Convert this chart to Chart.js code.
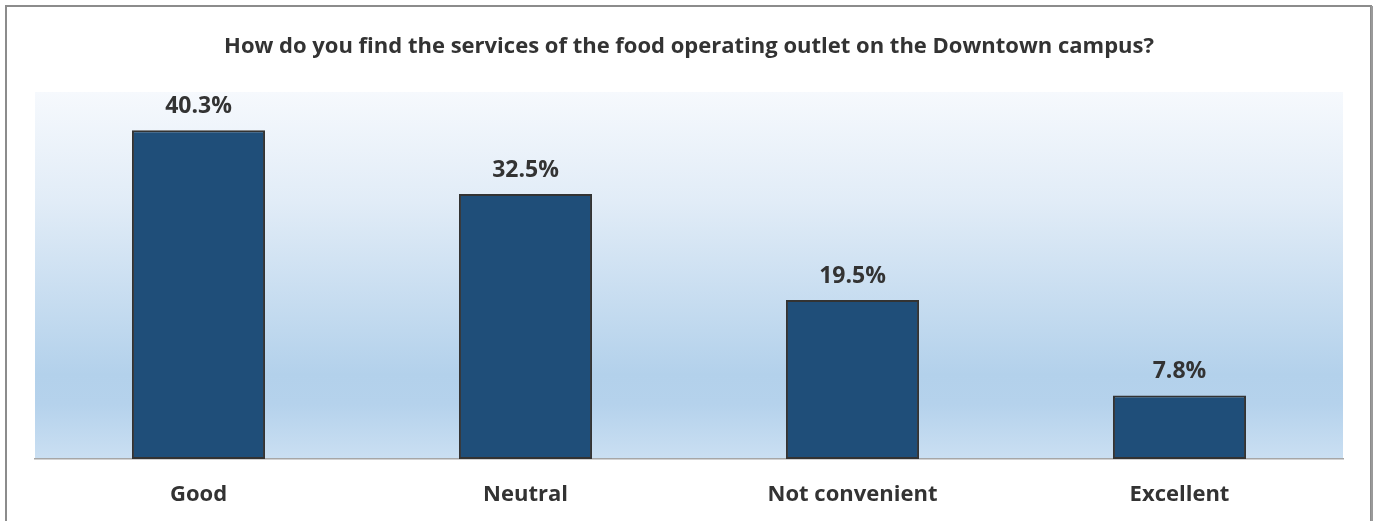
<!DOCTYPE html>
<html>
<head>
  <meta charset="UTF-8">
  <title>Food outlet services - Downtown campus</title>
  <script src="https://cdn.jsdelivr.net/npm/chart.js"></script>
  <style>
    body {
      margin: 0;
      background: #fff;
    }
    canvas {
      display: block;
    }
  </style>
</head>
<body>
  <canvas id="servicesChart" width="1374" height="521"></canvas>

  <script>
    const titleText = "How do you find the services of the food operating outlet on the Downtown campus?";
    const categories = ["Good", "Neutral", "Not convenient", "Excellent"];
    const percentages = [40.3, 32.5, 19.5, 7.8];

    const fontFamily = "'Open Sans', sans-serif";
    const textColor = "#333333";

    // frame, title and the soft blue plot background
    const backdrop = {
      id: "backdrop",
      beforeDraw(chart) {
        const { ctx, chartArea: a } = chart;
        ctx.save();
        ctx.fillStyle = "#ffffff";
        ctx.fillRect(0, 0, chart.width, chart.height);

        const grad = ctx.createLinearGradient(0, a.top, 0, a.bottom);
        grad.addColorStop(0, "#f6f9fd");
        grad.addColorStop(0.3, "#e1ecf7");
        grad.addColorStop(0.77, "#b3d1eb");
        grad.addColorStop(0.85, "#b5d2ec");
        grad.addColorStop(1, "#cadff2");
        ctx.fillStyle = grad;
        ctx.fillRect(a.left, a.top, a.right - a.left, a.bottom - a.top);

        ctx.strokeStyle = "#8c8c8c";
        ctx.lineWidth = 2;
        ctx.beginPath();
        ctx.moveTo(6, chart.height + 2);
        ctx.lineTo(6, 6);
        ctx.lineTo(1371, 6);
        ctx.lineTo(1371, chart.height + 2);
        ctx.stroke();
        ctx.fillStyle = "#9a9a9a";
        ctx.fillRect(1371, 6, 2, chart.height);

        ctx.fillStyle = textColor;
        ctx.font = "bold 22px " + fontFamily;
        ctx.textAlign = "center";
        ctx.textBaseline = "alphabetic";
        ctx.fillText(titleText, (a.left + a.right) / 2, 53);
        ctx.restore();
      }
    };

    // percentage labels above each bar
    const valueLabels = {
      id: "valueLabels",
      afterDatasetsDraw(chart) {
        const { ctx } = chart;
        const meta = chart.getDatasetMeta(0);
        ctx.save();
        ctx.fillStyle = textColor;
        ctx.font = "bold 23px " + fontFamily;
        ctx.textAlign = "center";
        ctx.textBaseline = "alphabetic";
        meta.data.forEach((bar, i) => {
          ctx.fillText(percentages[i].toFixed(1) + "%", bar.x, bar.y - 17);
        });
        ctx.restore();
      }
    };

    const ctx = document.getElementById("servicesChart").getContext("2d");

    new Chart(ctx, {
      type: "bar",
      data: {
        labels: categories,
        datasets: [{
          data: percentages,
          backgroundColor: "#1f4e79",
          borderColor: "#333333",
          borderWidth: 2,
          borderSkipped: false,
          categoryPercentage: 1,
          barPercentage: 0.407
        }]
      },
      options: {
        responsive: false,
        animation: false,
        layout: {
          padding: { left: 35, right: 31, top: 92, bottom: 0 }
        },
        plugins: {
          legend: { display: false },
          title: { display: false },
          tooltip: { enabled: false }
        },
        scales: {
          x: {
            grid: { display: false, drawTicks: false },
            border: { display: true, color: "#a6a6a6", width: 1.5 },
            ticks: {
              color: textColor,
              padding: 23,
              font: { family: fontFamily, size: 22, weight: "bold" }
            },
            afterFit(scale) { scale.height = 62; }
          },
          y: {
            display: false,
            min: 0,
            max: 45
          }
        }
      },
      plugins: [backdrop, valueLabels]
    });
  </script>
</body>
</html>
